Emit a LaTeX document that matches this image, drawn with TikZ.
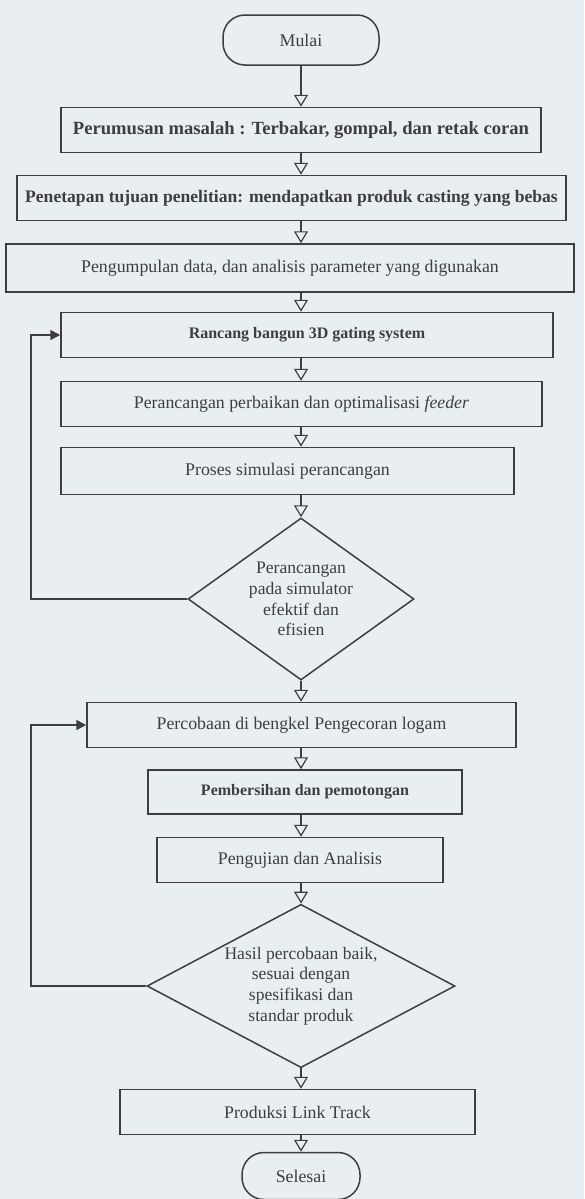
\documentclass[tikz,border=0pt]{standalone}
\usepackage{fontspec}
\setmainfont{Liberation Serif}
\usetikzlibrary{positioning,shapes,arrows.meta}
\definecolor{scanbg}{RGB}{233,238,243}
\definecolor{ink}{RGB}{62,62,66}

\begin{document}
\begin{tikzpicture}[x=0.5pt,y=-0.5pt,
  box/.style={draw=ink,line width=0.75pt,rectangle,inner sep=0pt,text=ink,
    minimum height=22.5pt,font=\fontsize{8.9}{10}\selectfont},
  boldbox/.style={box,font=\fontsize{8}{10}\selectfont\bfseries},
  term/.style={box,rounded corners=11pt},
  decision/.style={draw=ink,line width=0.75pt,diamond,inner sep=0pt,align=center,
    text=ink,font=\fontsize{8.8}{10.4}\selectfont},
  flow/.style={draw=ink,line width=0.6pt,-{Triangle[open,width=7pt,length=6pt]}},
  back/.style={draw=ink,line width=0.8pt,-{Triangle[width=5pt,length=5pt]}}]
  \fill[scanbg] (0,0) rectangle (584,1199);
  \useasboundingbox (0,0) rectangle (584,1199);

  \node[term,minimum width=78pt,minimum height=25pt] (mulai) at (301,40) {Mulai};
  \node[boldbox,minimum width=240pt,font=\fontsize{9.3}{10}\selectfont\bfseries]
    (rumus) at (301,130) {Perumusan masalah : Terbakar, gompal, dan retak coran};
  \node[boldbox,minimum width=274.5pt,font=\fontsize{8.8}{10}\selectfont\bfseries]
    (tujuan) at (291.5,198) {Penetapan tujuan penelitian: mendapatkan produk casting yang bebas};
  \node[box,minimum width=284pt,minimum height=24pt] (data) at (290,268)
    {Pengumpulan data, dan analisis parameter yang digunakan};
  \node[boldbox,minimum width=246pt] (rancang) at (307,335)
    {Rancang bangun 3D gating system};
  \node[box,minimum width=240.5pt] (feeder) at (301.5,404)
    {Perancangan perbaikan dan optimalisasi \textit{feeder}};
  \node[box,minimum width=226.5pt,minimum height=23.5pt] (simulasi) at (287.5,471)
    {Proses simulasi perancangan};
  \node[decision,aspect=1.4,minimum width=113pt,minimum height=81pt] (efektif) at (301,599)
    {Perancangan\\pada simulator\\efektif dan\\efisien};
  \node[box,minimum width=214.5pt] (coba) at (301.5,725)
    {Percobaan di bengkel Pengecoran logam};
  \node[boldbox,minimum width=157pt,minimum height=22pt] (bersih) at (305,792)
    {Pembersihan dan pemotongan};
  \node[box,minimum width=143pt] (uji) at (300,860)
    {Pengujian dan Analisis};
  \node[decision,aspect=1.8,minimum width=154pt,minimum height=81pt] (hasil) at (301,986)
    {Hasil percobaan baik,\\sesuai dengan\\spesifikasi dan\\standar produk};
  \node[box,minimum width=177.5pt] (produksi) at (297.5,1112)
    {Produksi Link Track};
  \node[term,minimum width=59pt,minimum height=23.5pt] (selesai) at (301,1176) {Selesai};

  % alur utama, semua panah pada sumbu tengah
  \foreach \a/\b in {mulai/rumus,rumus/tujuan,tujuan/data,data/rancang,
      rancang/feeder,feeder/simulasi,simulasi/efektif,efektif/coba,
      coba/bersih,bersih/uji,uji/hasil,hasil/produksi,produksi/selesai}
    \draw[flow] (\a.south -| mulai) -- (\b.north -| mulai);

  % jalur kembali
  \coordinate (ulang1) at (31,599);
  \coordinate (ulang2) at (31,986);
  \draw[back] (efektif.west) -- (ulang1) |- (rancang.west);
  \draw[back] (hasil.west) -- (ulang2) |- (coba.west);
\end{tikzpicture}
\end{document}
